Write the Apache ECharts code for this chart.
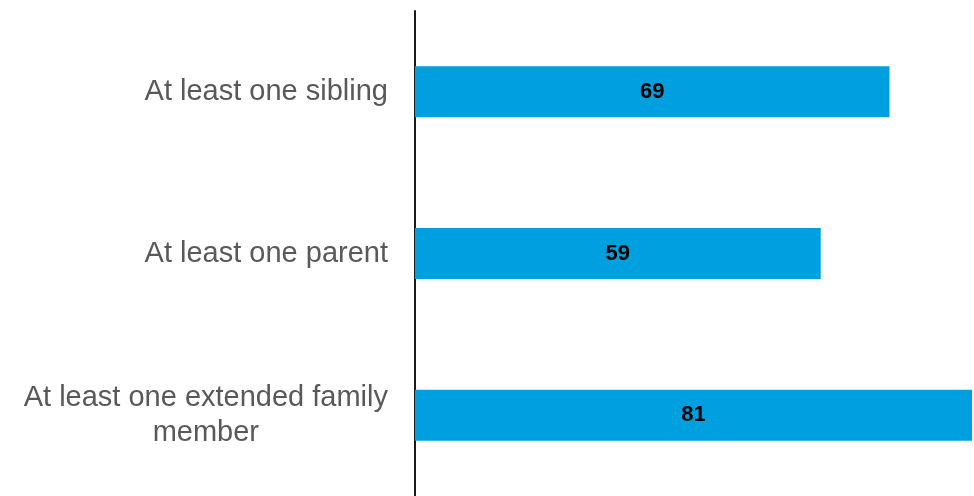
<!DOCTYPE html>
<html>
<head>
<meta charset="utf-8">
<script src="https://cdn.jsdelivr.net/npm/echarts@6/dist/echarts.min.js"></script>
<style>
  html, body { margin: 0; padding: 0; background: #ffffff; }
  #chart { width: 974px; height: 496px; }
</style>
</head>
<body>
<div id="chart"></div>
<script>
// Share of respondents with family members (top to bottom)
const categories = [
  'At least one sibling',
  'At least one parent',
  'At least one extended family\nmember'
];
const values = [69, 59, 81];

const chart = echarts.init(document.getElementById('chart'), null, { renderer: 'canvas' });

chart.setOption({
  animation: false,
  backgroundColor: '#ffffff',
  grid: { left: 415, right: 2, top: 11, height: 490, containLabel: false },
  xAxis: {
    type: 'value',
    min: 0,
    max: 81,
    show: false
  },
  yAxis: {
    type: 'category',
    inverse: true,
    data: categories,
    axisLine: { show: true, lineStyle: { color: '#1a1a1a', width: 2 } },
    axisTick: { show: false },
    splitLine: { show: false },
    axisLabel: {
      margin: 27,
      formatter: function (v) {
        return v.split('\n').map(function (s) { return '{c|' + s + '}'; }).join('\n');
      },
      rich: {
        c: {
          align: 'center',
          color: '#595959',
          fontSize: 29,
          lineHeight: 35,
          fontFamily: 'Liberation Sans, Arial, sans-serif'
        }
      }
    }
  },
  series: [{
    type: 'bar',
    data: values,
    barWidth: 51,
    itemStyle: { color: '#009fdf' },
    label: {
      show: true,
      position: 'inside',
      color: '#000000',
      fontSize: 22,
      fontWeight: 'bold',
      fontFamily: 'Liberation Sans, Arial, sans-serif'
    }
  }]
});
</script>
</body>
</html>
